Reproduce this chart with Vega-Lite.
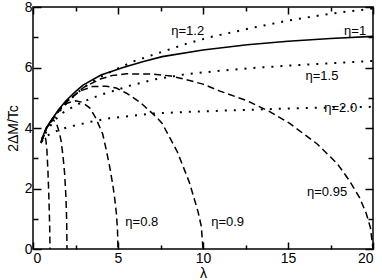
{
  "$schema": "https://vega.github.io/schema/vega-lite/v6.json",
  "width": 340,
  "height": 242,
  "autosize": "none",
  "padding": {"left": 33, "top": 7, "right": 9, "bottom": 31},
  "background": "white",
  "config": {
    "view": {"stroke": "black", "strokeWidth": 1.5},
    "axis": {"domain": false, "grid": false, "labelFont": "Liberation Sans", "labelFontSize": 14, "labelColor": "black", "tickColor": "black", "tickWidth": 1.5, "titleFont": "Liberation Sans", "titleFontSize": 14, "titleFontWeight": "normal", "titleColor": "black"}
  },
  "datasets": {
    "curves": [
      {"s": "1", "st": "solid", "l": 0.48, "v": 3.5}, {"s": "1", "st": "solid", "l": 0.55, "v": 3.68}, {"s": "1", "st": "solid", "l": 0.78, "v": 4.0}, {"s": "1", "st": "solid", "l": 1.0, "v": 4.2}, {"s": "1", "st": "solid", "l": 1.18, "v": 4.34}, {"s": "1", "st": "solid", "l": 1.5, "v": 4.6}, {"s": "1", "st": "solid", "l": 1.94, "v": 4.9}, {"s": "1", "st": "solid", "l": 2.5, "v": 5.2}, {"s": "1", "st": "solid", "l": 2.94, "v": 5.42}, {"s": "1", "st": "solid", "l": 4, "v": 5.75}, {"s": "1", "st": "solid", "l": 5.3, "v": 6.0}, {"s": "1", "st": "solid", "l": 6.5, "v": 6.2}, {"s": "1", "st": "solid", "l": 7.6, "v": 6.36}, {"s": "1", "st": "solid", "l": 10, "v": 6.58}, {"s": "1", "st": "solid", "l": 12.6, "v": 6.75}, {"s": "1", "st": "solid", "l": 15, "v": 6.87}, {"s": "1", "st": "solid", "l": 17.5, "v": 6.96}, {"s": "1", "st": "solid", "l": 20, "v": 7.03},

      {"s": "1.2", "st": "dotted", "l": 0.5, "v": 3.55}, {"s": "1.2", "st": "dotted", "l": 0.8, "v": 3.98}, {"s": "1.2", "st": "dotted", "l": 1.2, "v": 4.3}, {"s": "1.2", "st": "dotted", "l": 2, "v": 4.85}, {"s": "1.2", "st": "dotted", "l": 3, "v": 5.35}, {"s": "1.2", "st": "dotted", "l": 4, "v": 5.7}, {"s": "1.2", "st": "dotted", "l": 5, "v": 5.97}, {"s": "1.2", "st": "dotted", "l": 5.9, "v": 6.2}, {"s": "1.2", "st": "dotted", "l": 7.5, "v": 6.5}, {"s": "1.2", "st": "dotted", "l": 9, "v": 6.78}, {"s": "1.2", "st": "dotted", "l": 10.4, "v": 7.0}, {"s": "1.2", "st": "dotted", "l": 12.8, "v": 7.3}, {"s": "1.2", "st": "dotted", "l": 15, "v": 7.55}, {"s": "1.2", "st": "dotted", "l": 17.5, "v": 7.78}, {"s": "1.2", "st": "dotted", "l": 20, "v": 7.95},

      {"s": "1.5", "st": "dotted", "l": 0.5, "v": 3.55}, {"s": "1.5", "st": "dotted", "l": 0.8, "v": 3.9}, {"s": "1.5", "st": "dotted", "l": 1.2, "v": 4.2}, {"s": "1.5", "st": "dotted", "l": 1.6, "v": 4.45}, {"s": "1.5", "st": "dotted", "l": 2.2, "v": 4.65}, {"s": "1.5", "st": "dotted", "l": 2.94, "v": 4.87}, {"s": "1.5", "st": "dotted", "l": 4, "v": 5.1}, {"s": "1.5", "st": "dotted", "l": 5.1, "v": 5.29}, {"s": "1.5", "st": "dotted", "l": 5.7, "v": 5.4}, {"s": "1.5", "st": "dotted", "l": 7.1, "v": 5.6}, {"s": "1.5", "st": "dotted", "l": 9, "v": 5.78}, {"s": "1.5", "st": "dotted", "l": 10.8, "v": 5.88}, {"s": "1.5", "st": "dotted", "l": 12.8, "v": 5.98}, {"s": "1.5", "st": "dotted", "l": 15, "v": 6.06}, {"s": "1.5", "st": "dotted", "l": 17.5, "v": 6.14}, {"s": "1.5", "st": "dotted", "l": 20, "v": 6.22},

      {"s": "2.0", "st": "dotted", "l": 0.5, "v": 3.55}, {"s": "2.0", "st": "dotted", "l": 0.7, "v": 3.7}, {"s": "2.0", "st": "dotted", "l": 1.0, "v": 3.8}, {"s": "2.0", "st": "dotted", "l": 1.6, "v": 3.95}, {"s": "2.0", "st": "dotted", "l": 2.2, "v": 4.05}, {"s": "2.0", "st": "dotted", "l": 3.35, "v": 4.2}, {"s": "2.0", "st": "dotted", "l": 4.5, "v": 4.32}, {"s": "2.0", "st": "dotted", "l": 5.3, "v": 4.37}, {"s": "2.0", "st": "dotted", "l": 7.1, "v": 4.48}, {"s": "2.0", "st": "dotted", "l": 9, "v": 4.53}, {"s": "2.0", "st": "dotted", "l": 12.6, "v": 4.6}, {"s": "2.0", "st": "dotted", "l": 16, "v": 4.66}, {"s": "2.0", "st": "dotted", "l": 20, "v": 4.7},

      {"s": "0", "st": "dashed", "l": 0.48, "v": 3.5}, {"s": "0", "st": "dashed", "l": 0.55, "v": 3.68}, {"s": "0", "st": "dashed", "l": 0.62, "v": 3.75}, {"s": "0", "st": "dashed", "l": 0.7, "v": 3.72}, {"s": "0", "st": "dashed", "l": 0.76, "v": 3.6}, {"s": "0", "st": "dashed", "l": 0.82, "v": 3.25}, {"s": "0", "st": "dashed", "l": 0.88, "v": 2.55}, {"s": "0", "st": "dashed", "l": 0.92, "v": 1.95}, {"s": "0", "st": "dashed", "l": 0.95, "v": 1.4}, {"s": "0", "st": "dashed", "l": 0.98, "v": 0.8}, {"s": "0", "st": "dashed", "l": 1.0, "v": 0},

      {"s": "0.5", "st": "dashed", "l": 0.48, "v": 3.5}, {"s": "0.5", "st": "dashed", "l": 0.55, "v": 3.68}, {"s": "0.5", "st": "dashed", "l": 0.78, "v": 4.0}, {"s": "0.5", "st": "dashed", "l": 1.0, "v": 4.18}, {"s": "0.5", "st": "dashed", "l": 1.2, "v": 4.27}, {"s": "0.5", "st": "dashed", "l": 1.4, "v": 4.12}, {"s": "0.5", "st": "dashed", "l": 1.55, "v": 3.85}, {"s": "0.5", "st": "dashed", "l": 1.65, "v": 3.58}, {"s": "0.5", "st": "dashed", "l": 1.76, "v": 3.1}, {"s": "0.5", "st": "dashed", "l": 1.86, "v": 2.5}, {"s": "0.5", "st": "dashed", "l": 1.94, "v": 1.7}, {"s": "0.5", "st": "dashed", "l": 1.98, "v": 0.95}, {"s": "0.5", "st": "dashed", "l": 2.0, "v": 0},

      {"s": "0.8", "st": "dashed", "l": 0.5, "v": 3.55}, {"s": "0.8", "st": "dashed", "l": 0.8, "v": 4.0}, {"s": "0.8", "st": "dashed", "l": 1.2, "v": 4.35}, {"s": "0.8", "st": "dashed", "l": 1.6, "v": 4.63}, {"s": "0.8", "st": "dashed", "l": 2.0, "v": 4.82}, {"s": "0.8", "st": "dashed", "l": 2.5, "v": 4.9}, {"s": "0.8", "st": "dashed", "l": 2.9, "v": 4.85}, {"s": "0.8", "st": "dashed", "l": 3.35, "v": 4.66}, {"s": "0.8", "st": "dashed", "l": 3.7, "v": 4.32}, {"s": "0.8", "st": "dashed", "l": 4.1, "v": 3.8}, {"s": "0.8", "st": "dashed", "l": 4.3, "v": 3.3}, {"s": "0.8", "st": "dashed", "l": 4.5, "v": 2.75}, {"s": "0.8", "st": "dashed", "l": 4.7, "v": 2.1}, {"s": "0.8", "st": "dashed", "l": 4.8, "v": 1.7}, {"s": "0.8", "st": "dashed", "l": 4.9, "v": 1.2}, {"s": "0.8", "st": "dashed", "l": 4.97, "v": 0.65}, {"s": "0.8", "st": "dashed", "l": 5.0, "v": 0},

      {"s": "0.9", "st": "dashed", "l": 0.5, "v": 3.55}, {"s": "0.9", "st": "dashed", "l": 0.8, "v": 4.0}, {"s": "0.9", "st": "dashed", "l": 1.2, "v": 4.35}, {"s": "0.9", "st": "dashed", "l": 2, "v": 4.88}, {"s": "0.9", "st": "dashed", "l": 2.76, "v": 5.22}, {"s": "0.9", "st": "dashed", "l": 3.5, "v": 5.37}, {"s": "0.9", "st": "dashed", "l": 4.3, "v": 5.38}, {"s": "0.9", "st": "dashed", "l": 4.9, "v": 5.32}, {"s": "0.9", "st": "dashed", "l": 5.5, "v": 5.15}, {"s": "0.9", "st": "dashed", "l": 6.3, "v": 4.85}, {"s": "0.9", "st": "dashed", "l": 7.3, "v": 4.34}, {"s": "0.9", "st": "dashed", "l": 7.6, "v": 4.15}, {"s": "0.9", "st": "dashed", "l": 8.5, "v": 3.2}, {"s": "0.9", "st": "dashed", "l": 9.2, "v": 2.2}, {"s": "0.9", "st": "dashed", "l": 9.7, "v": 1.25}, {"s": "0.9", "st": "dashed", "l": 9.9, "v": 0.75}, {"s": "0.9", "st": "dashed", "l": 10, "v": 0},

      {"s": "0.95", "st": "dashed", "l": 0.5, "v": 3.55}, {"s": "0.95", "st": "dashed", "l": 0.8, "v": 4.0}, {"s": "0.95", "st": "dashed", "l": 1.2, "v": 4.35}, {"s": "0.95", "st": "dashed", "l": 2, "v": 4.88}, {"s": "0.95", "st": "dashed", "l": 3, "v": 5.35}, {"s": "0.95", "st": "dashed", "l": 4, "v": 5.63}, {"s": "0.95", "st": "dashed", "l": 4.7, "v": 5.74}, {"s": "0.95", "st": "dashed", "l": 5.5, "v": 5.79}, {"s": "0.95", "st": "dashed", "l": 7.1, "v": 5.78}, {"s": "0.95", "st": "dashed", "l": 8.1, "v": 5.72}, {"s": "0.95", "st": "dashed", "l": 9, "v": 5.6}, {"s": "0.95", "st": "dashed", "l": 10, "v": 5.45}, {"s": "0.95", "st": "dashed", "l": 11, "v": 5.22}, {"s": "0.95", "st": "dashed", "l": 12.6, "v": 4.9}, {"s": "0.95", "st": "dashed", "l": 13.9, "v": 4.55}, {"s": "0.95", "st": "dashed", "l": 15.1, "v": 4.15}, {"s": "0.95", "st": "dashed", "l": 16.7, "v": 3.48}, {"s": "0.95", "st": "dashed", "l": 17.9, "v": 2.82}, {"s": "0.95", "st": "dashed", "l": 18.6, "v": 2.27}, {"s": "0.95", "st": "dashed", "l": 19.2, "v": 1.71}, {"s": "0.95", "st": "dashed", "l": 19.6, "v": 1.18}, {"s": "0.95", "st": "dashed", "l": 19.85, "v": 0.7}, {"s": "0.95", "st": "dashed", "l": 20, "v": 0}
    ],
    "labels": [
      {"t": "η=1.2", "l": 9.1, "v": 7.2},
      {"t": "η=1", "l": 18.95, "v": 7.22},
      {"t": "η=1.5", "l": 17.0, "v": 5.71},
      {"t": "η=2.0", "l": 18.1, "v": 4.66},
      {"t": "η=0.95", "l": 17.3, "v": 1.87},
      {"t": "η=0.9", "l": 11.45, "v": 0.89},
      {"t": "η=0.8", "l": 6.4, "v": 0.89}
    ]
  },
  "layer": [
    {
      "data": {"name": "curves"},
      "transform": [{"filter": "datum.st === 'solid'"}],
      "mark": {"type": "line", "color": "black", "strokeWidth": 1.6},
      "encoding": {
        "x": {"field": "l", "type": "quantitative", "scale": {"domain": [0, 20], "nice": false, "zero": false},
              "axis": {"orient": "bottom", "values": [0, 5, 10, 15, 20], "tickSize": -7, "labelPadding": 9, "title": "λ", "titlePadding": 1}},
        "y": {"field": "v", "type": "quantitative", "scale": {"domain": [0, 8], "nice": false, "zero": false},
              "axis": {"orient": "left", "values": [0, 2, 4, 6, 8], "tickSize": -8, "labelPadding": 9, "title": "2ΔM/Tc", "titlePadding": 4}},
        "detail": {"field": "s"}
      }
    },
    {
      "data": {"name": "curves"},
      "transform": [{"filter": "datum.st === 'dashed'"}],
      "mark": {"type": "line", "color": "black", "strokeWidth": 1.5, "strokeDash": [7, 4]},
      "encoding": {
        "x": {"field": "l", "type": "quantitative", "scale": {"domain": [0, 20], "nice": false, "zero": false},
              "axis": {"orient": "top", "values": [0, 5, 10, 15, 20], "tickSize": -7, "labels": false, "title": null}},
        "y": {"field": "v", "type": "quantitative", "scale": {"domain": [0, 8], "nice": false, "zero": false},
              "axis": {"orient": "right", "values": [0, 2, 4, 6, 8], "tickSize": -8, "labels": false, "title": null}},
        "detail": {"field": "s"}
      }
    },
    {
      "data": {"name": "curves"},
      "transform": [{"filter": "datum.st === 'dotted'"}],
      "mark": {"type": "line", "color": "black", "strokeWidth": 2, "strokeDash": [2, 7]},
      "encoding": {
        "x": {"field": "l", "type": "quantitative", "scale": {"domain": [0, 20], "nice": false, "zero": false},
              "axis": {"orient": "bottom", "values": [2.5, 7.5, 12.5, 17.5], "tickSize": -4, "labels": false, "title": null}},
        "y": {"field": "v", "type": "quantitative", "scale": {"domain": [0, 8], "nice": false, "zero": false},
              "axis": {"orient": "left", "values": [1, 3, 5, 7], "tickSize": -5, "labels": false, "title": null}},
        "detail": {"field": "s"}
      }
    },
    {
      "data": {"name": "labels"},
      "mark": {"type": "text", "font": "Liberation Sans", "fontSize": 13, "color": "black", "align": "center", "baseline": "middle"},
      "encoding": {
        "x": {"field": "l", "type": "quantitative", "scale": {"domain": [0, 20], "nice": false, "zero": false},
              "axis": {"orient": "top", "values": [2.5, 7.5, 12.5, 17.5], "tickSize": -4, "labels": false, "title": null}},
        "y": {"field": "v", "type": "quantitative", "scale": {"domain": [0, 8], "nice": false, "zero": false},
              "axis": {"orient": "right", "values": [1, 3, 5, 7], "tickSize": -5, "labels": false, "title": null}},
        "text": {"field": "t"}
      }
    }
  ],
  "resolve": {"axis": {"x": "independent", "y": "independent"}}
}
